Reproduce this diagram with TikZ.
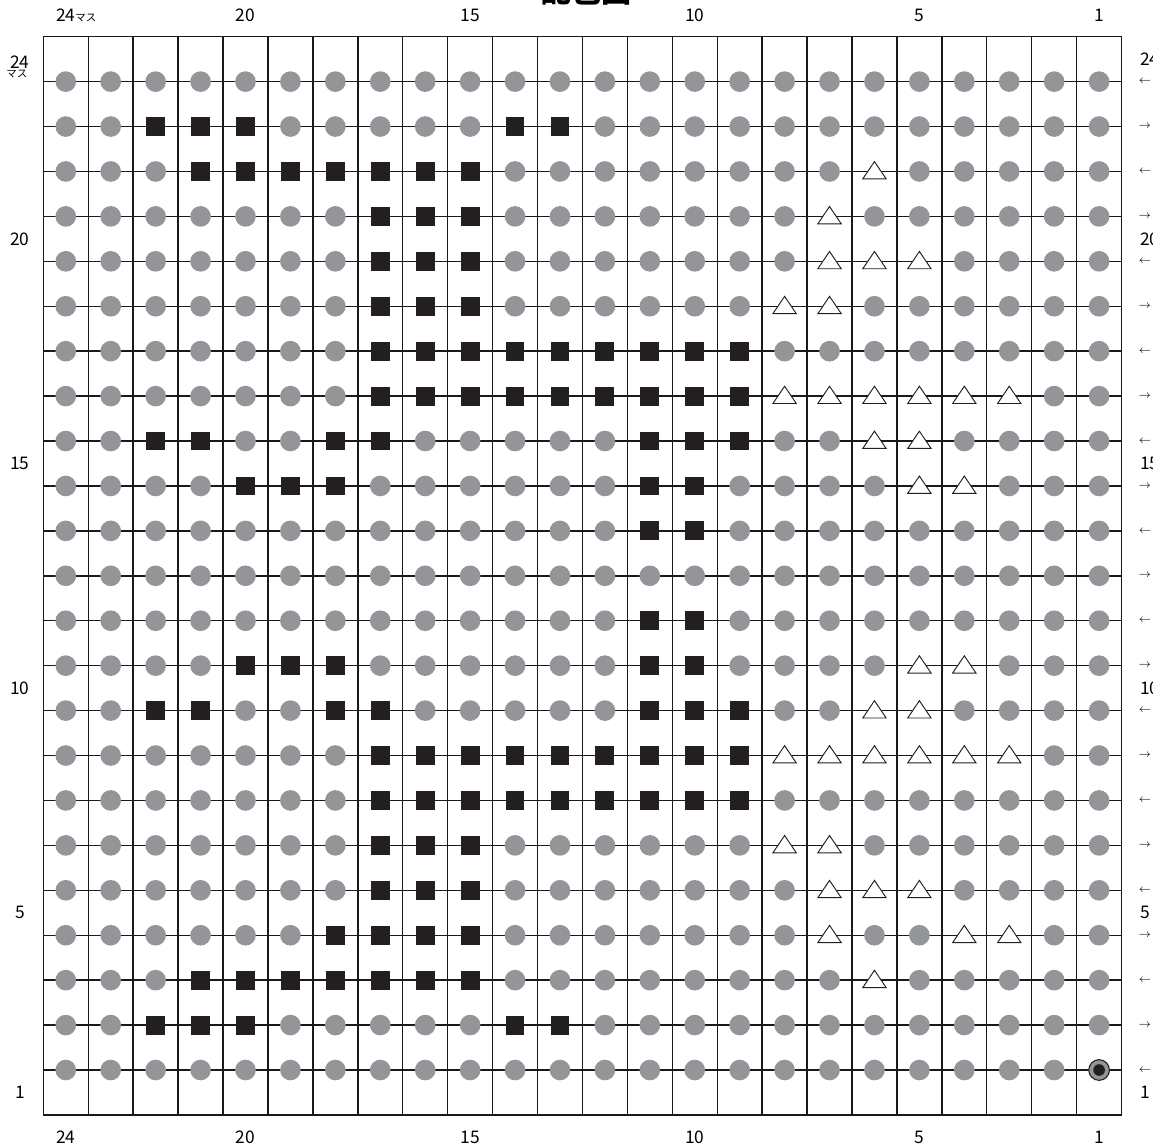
\documentclass[tikz,border=0pt]{standalone}
\usepackage{fontspec}
\setmainfont{Noto Sans CJK JP}
\usepackage{xstring}
\definecolor{beadgrey}{RGB}{147,149,152}
\definecolor{beadblack}{RGB}{35,31,32}

\begin{document}
\begin{tikzpicture}[x=1cm,y=1cm, every node/.style={font=\fontsize{11}{13}\selectfont},
  gridline/.style={draw=black!90,line width=0.9pt},
  bead/.style={circle,fill=beadgrey,inner sep=0pt,minimum size=4.6mm},
  cube/.style={rectangle,fill=beadblack,inner sep=0pt,minimum size=4.2mm},
  tri/.style={draw=beadblack,fill=white,line width=0.6pt,line join=miter},
  startbead/.style={circle,draw=beadblack,line width=0.7pt,fill=beadgrey,inner sep=0pt,
               minimum size=4.6mm},
  startdot/.style={circle,fill=beadblack,inner sep=0pt,minimum size=2.6mm},
  num/.style={inner sep=0pt},
  unit/.style={inner sep=0pt,font=\fontsize{6.6}{8}\selectfont},
  dir/.style={inner sep=0pt,anchor=west,font=\fontsize{7.5}{9}\selectfont}]

\useasboundingbox (-0.964,-0.690) rectangle (24.70,24.817);

\node[anchor=base,inner sep=0pt,font=\fontsize{19}{21}\selectfont\bfseries] (title)
  at (12.1,24.76) {配色図};

% grid: 24 columns, beads sit on the 23 inner rows
\foreach \k in {1,...,23} \draw[gridline] (0,\k) -- (24,\k);
\foreach \c in {0,...,24} \draw[gridline] (\c,0) -- (\c,24);
\draw[gridline] (0,0) -- (24,0) (0,24) -- (24,24);

% o = grey bead, X = black cube, T = triangle, S = start
\foreach \k/\row in {
  23/oooooooooooooooooooooooo,
  22/ooXXXoooooXXoooooooooooo,
  21/oooXXXXXXXooooooooTooooo,
  20/oooooooXXXoooooooToooooo,
  19/oooooooXXXoooooooTTToooo,
  18/oooooooXXXooooooTToooooo,
  17/oooooooXXXXXXXXXoooooooo,
  16/oooooooXXXXXXXXXTTTTTToo,
  15/ooXXooXXoooooXXXooTToooo,
  14/ooooXXXooooooXXooooTTooo,
  13/oooooooooooooXXooooooooo,
  12/oooooooooooooooooooooooo,
  11/oooooooooooooXXooooooooo,
  10/ooooXXXooooooXXooooTTooo,
   9/ooXXooXXoooooXXXooTToooo,
   8/oooooooXXXXXXXXXTTTTTToo,
   7/oooooooXXXXXXXXXoooooooo,
   6/oooooooXXXooooooTToooooo,
   5/oooooooXXXoooooooTTToooo,
   4/ooooooXXXXoooooooTooTToo,
   3/oooXXXXXXXooooooooTooooo,
   2/ooXXXoooooXXoooooooooooo,
   1/oooooooooooooooooooooooS} {
  \foreach \c in {1,...,24} {
    \StrChar{\row}{\c}[\s]
    \if o\s \node[bead] (b-\c-\k) at (\c-0.5,\k) {}; \fi
    \if X\s \node[cube] (x-\c-\k) at (\c-0.5,\k) {}; \fi
    \if T\s \draw[tri] (\c-0.5,\k+0.22) -- ++(0.26,-0.385) -- ++(-0.52,0) -- cycle; \fi
    \if S\s \node[startbead] (start) at (\c-0.5,\k) {};
            \node[startdot] (startin) at (start) {}; \fi
  }
}

% column and row numbers
\node[num] (top-24) at (0.5,24.483) {24\rlap{\fontsize{6.6}{8}\selectfont マス}};
\node[num] (bot-24) at (0.5,-0.49) {24};
\node[num] (lft-24) at (-0.52,23.44) {24};
\node[unit] (lft-unit) at (-0.59,23.17) {マス};
\node[num,anchor=west] (rgt-24) at (24.41,23.5) {24};
\foreach \n in {20,15,10,5,1} {
  \node[num] (top-\n) at (24.5-\n,24.483) {\n};
  \node[num] (bot-\n) at (24.5-\n,-0.49) {\n};
  \node[num] (lft-\n) at (-0.52,\n-0.5) {\n};
  \node[num,anchor=west] (rgt-\n) at (24.41,\n-0.5) {\n};
}

% knitting direction of each row
\foreach \k in {1,...,23}
  \node[dir] (d-\k) at (24.37,\k) {\ifodd\k$\leftarrow$\else$\rightarrow$\fi};
\end{tikzpicture}
\end{document}
